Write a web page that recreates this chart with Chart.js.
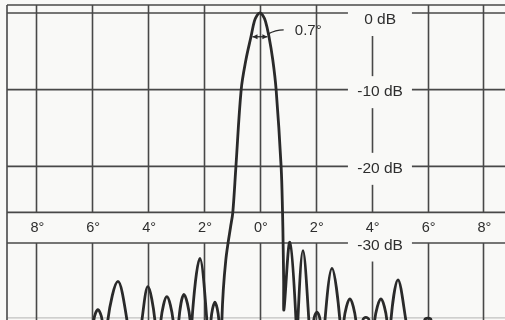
<!DOCTYPE html>
<html><head><meta charset="utf-8">
<script src="https://cdn.jsdelivr.net/npm/chart.js@4.4.1/dist/chart.umd.min.js"></script>
<style>html,body{margin:0;padding:0;background:#f9f9f7;}canvas{display:block}</style>
</head><body>
<canvas id="c" width="505" height="320"></canvas>
<script>
// Off-axis angle in degrees (left negative) and relative level in dB
const angles = [
  -6.10, -5.94, -5.80, -5.65, -5.55, -5.44, -5.08, -4.76, -4.49, -4.22, -4.01, -3.76, -3.65,
  -3.54, -3.33, -3.11, -3.00, -2.90, -2.72, -2.50, -2.47, -2.43, -2.15, -1.90, -1.82, -1.75, -1.61, -1.47, -1.41,
  -1.36, -1.31, -1.22, -1.14, -1.05, -0.97, -0.86, -0.67, -0.50, -0.32, -0.20, -0.10, 0.00,
  0.10, 0.20, 0.32, 0.46, 0.58, 0.76, 0.81, 0.83, 0.85, 0.86,
  1.07, 1.29, 1.32, 1.36, 1.54, 1.75, 1.84, 1.93, 2.04, 2.15, 2.24, 2.33, 2.58, 2.86, 2.93,
  3.01, 3.22, 3.43, 3.56, 3.69, 3.79, 3.90, 4.01, 4.11, 4.33, 4.54, 4.62, 4.69, 4.94, 5.22, 5.55,
  5.90, 6.01, 6.12, 6.30
];
const levels = [
  -48.0, -40.0, -38.7, -40.0, -48.0, -40.0, -35.0, -40.0, -48.0, -40.0, -35.7, -40.0, -48.0,
  -40.0, -37.0, -40.0, -48.0, -40.0, -36.7, -40.0, -48.0, -40.0, -32.0, -40.0, -48.0, -40.0, -37.7, -40.0, -48.0,
  -40.0, -36.1, -32.2, -30.0, -27.9, -26.0, -20.1, -10.0, -6.1, -3.1, -1.1, -0.3, 0.0,
  -0.3, -1.1, -3.0, -6.1, -10.0, -20.1, -26.0, -30.0, -35.0, -38.7,
  -29.9, -40.0, -48.0, -40.0, -31.0, -40.0, -48.0, -40.0, -39.0, -40.0, -48.0, -40.0, -33.3, -40.0, -48.0,
  -40.0, -37.3, -40.0, -48.0, -40.0, -39.7, -40.0, -48.0, -40.0, -37.3, -40.0, -48.0, -40.0, -34.8, -40.0, -48.0,
  -40.0, -39.8, -40.0, -48.0
];
const angleTicks = [-8, -6, -4, -2, 0, 2, 4, 6, 8];
const angleLabels = ['8°', '6°', '4°', '2°', '0°', '2°', '4°', '6°', '8°'];
const dbTicks = [0, -10, -20, -30];
const dbLabels = ['0 dB', '-10 dB', '-20 dB', '-30 dB'];
const beamLabel = '0.7°';
const halfBeam = 0.32;   // half of the 0.7° beamwidth as drawn
const beamLevel = -3.1;  // dB level of the beamwidth arrow

const GRID = '#484848';
const INK = '#2a2a2a';
const FONT = '"Liberation Sans", Arial, Helvetica, sans-serif';

const chartPlugin = {
  id: 'antennaGrid',
  beforeDraw(chart) {
    const c = chart.ctx;
    c.save();
    c.fillStyle = '#f9f9f7';
    c.fillRect(0, 0, chart.width, chart.height);
    c.restore();
  },
  beforeDatasetsDraw(chart) {
    const c = chart.ctx, xs = chart.scales.x, ys = chart.scales.y, a = chart.chartArea;
    const bandTop = ys.getPixelForValue(-26), bandBot = ys.getPixelForValue(-30);
    const gapL = xs.getPixelForValue(3.15), gapR = xs.getPixelForValue(5.44);
    const labX = xs.getPixelForValue(4.3);
    const labYs = dbTicks.map((d, i) => ys.getPixelForValue(d) + (i === 0 ? 7 : 2.5));
    c.save();
    c.strokeStyle = GRID;
    c.lineWidth = 1.6;
    c.lineCap = 'butt';
    const seg = (x1, y1, x2, y2) => { c.beginPath(); c.moveTo(x1, y1); c.lineTo(x2, y2); c.stroke(); };
    // frame
    seg(a.left, a.top, a.right, a.top);
    seg(a.left, a.top, a.left, a.bottom);
    // vertical grid lines
    angleTicks.forEach(t => {
      const x = Math.round(xs.getPixelForValue(t)) + 0.5;
      let pieces = [[a.top, bandTop], [bandBot, a.bottom]];
      if (t === 4) {
        const cut = [];
        pieces.forEach(([p0, p1]) => {
          let segs = [[p0, p1]];
          labYs.forEach(ly => {
            const g0 = ly - 16, g1 = ly + 16, next = [];
            segs.forEach(([s0, s1]) => {
              if (g1 <= s0 || g0 >= s1) { next.push([s0, s1]); return; }
              if (g0 > s0) next.push([s0, g0]);
              if (g1 < s1) next.push([g1, s1]);
            });
            segs = next;
          });
          cut.push(...segs);
        });
        pieces = cut;
      }
      pieces.forEach(([p0, p1]) => seg(x, p0, x, p1));
    });
    // horizontal dB lines with label gaps
    dbTicks.forEach(d => {
      const y = ys.getPixelForValue(d);
      seg(a.left, y, gapL, y);
      seg(gapR, y, a.right, y);
    });
    // band top line
    seg(a.left, bandTop, a.right, bandTop);
    // faint -40 dB line
    c.strokeStyle = 'rgba(90,90,90,0.35)';
    c.lineWidth = 1.2;
    const y40 = ys.getPixelForValue(-39.75);
    seg(a.left, y40, a.right, y40);
    // labels
    c.fillStyle = '#2e2e2e';
    c.textAlign = 'center';
    c.textBaseline = 'middle';
    c.font = '15.5px ' + FONT;
    dbLabels.forEach((s, i) => c.fillText(s, labX, labYs[i]));
    c.font = '14.5px ' + FONT;
    const bandMid = (bandTop + bandBot) / 2 + 0.5;
    angleTicks.forEach((t, i) => c.fillText(angleLabels[i], xs.getPixelForValue(t) + 1, bandMid));
    c.restore();
  },
  afterDatasetsDraw(chart) {
    const c = chart.ctx, xs = chart.scales.x, ys = chart.scales.y;
    const y = ys.getPixelForValue(beamLevel);
    const x1 = xs.getPixelForValue(-halfBeam) + 1.5, x2 = xs.getPixelForValue(halfBeam) - 1.5;
    c.save();
    c.strokeStyle = INK; c.fillStyle = INK; c.lineWidth = 1.3;
    c.beginPath(); c.moveTo(x1, y); c.lineTo(x2, y); c.stroke();
    const head = (xt, dir) => {
      c.beginPath(); c.moveTo(xt, y); c.lineTo(xt + dir * 5, y - 2.5); c.lineTo(xt + dir * 5, y + 2.5); c.closePath(); c.fill();
    };
    head(x1, 1); head(x2, -1);
    // leader
    const lx0 = xs.getPixelForValue(0.28), ly0 = ys.getPixelForValue(-2.75);
    const lx1 = xs.getPixelForValue(0.85), ly1 = ys.getPixelForValue(-2.2);
    c.beginPath(); c.moveTo(lx0, ly0);
    c.quadraticCurveTo((lx0 + lx1) / 2, ly1, lx1, ly1); c.stroke();
    c.font = '15px ' + FONT;
    c.textAlign = 'left'; c.textBaseline = 'middle';
    c.fillStyle = '#2e2e2e';
    c.fillText(beamLabel, xs.getPixelForValue(1.25), ys.getPixelForValue(-2.35));
    c.restore();
  }
};

new Chart(document.getElementById('c'), {
  type: 'scatter',
  data: {
    datasets: [{
      data: angles.map((x, i) => ({ x, y: levels[i] })),
      showLine: true,
      pointRadius: 0,
      borderColor: INK,
      borderWidth: 2.8,
      tension: 0.35,
      borderJoinStyle: 'round',
      clip: 0
    }]
  },
  options: {
    responsive: false,
    animation: false,
    devicePixelRatio: 1,
    layout: { padding: { left: 7, top: 5, right: 0, bottom: 0 } },
    plugins: { legend: { display: false }, tooltip: { enabled: false } },
    scales: {
      x: { type: 'linear', min: -9.05, max: 8.77, display: false },
      y: { type: 'linear', min: -40.04, max: 1.04, display: false }
    }
  },
  plugins: [chartPlugin]
});
</script>
</body></html>
